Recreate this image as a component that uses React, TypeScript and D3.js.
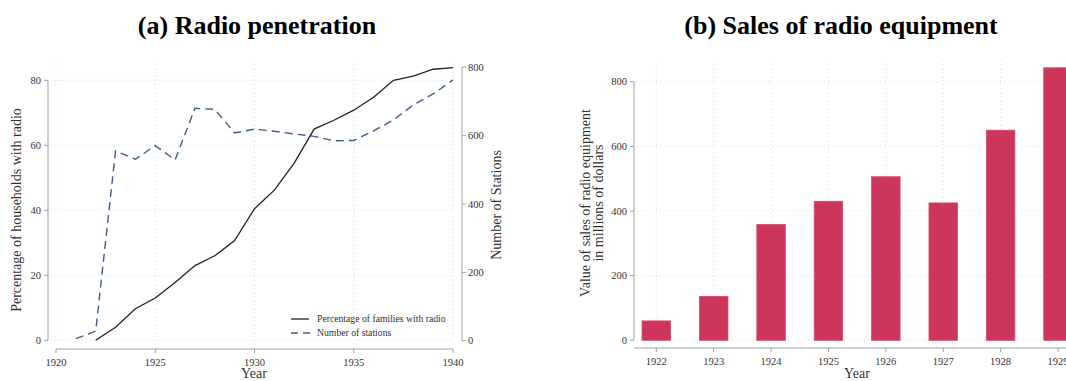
import React from 'react';
import * as d3 from 'd3';

// panel (a): radio penetration
const familyYears = [1922, 1923, 1924, 1925, 1926, 1927, 1928, 1929, 1930, 1931, 1932, 1933, 1934, 1935, 1936, 1937, 1938, 1939, 1940];
const familyPct = [0, 4, 9.7, 13, 17.8, 23, 26, 30.7, 40.5, 46.2, 54.5, 65, 67.7, 70.8, 74.8, 80, 81.3, 83.4, 83.9];
const stationYears = [1921, 1922, 1923, 1924, 1925, 1926, 1927, 1928, 1929, 1930, 1931, 1932, 1933, 1934, 1935, 1936, 1937, 1938, 1939, 1940];
const stations = [6, 28, 555, 531, 571, 529, 680, 677, 608, 619, 613, 605, 598, 585, 586, 614, 646, 690, 722, 763];
const xTicksA = [1920, 1925, 1930, 1935, 1940];
const pctTicks = [0, 20, 40, 60, 80];
const stationTicks = [0, 200, 400, 600, 800];

// panel (b): sales of radio equipment
const salesYears = ['1922', '1923', '1924', '1925', '1926', '1927', '1928', '1929'];
const sales = [60, 136, 358, 430, 506, 425, 650, 843];
const salesTicks = [0, 200, 400, 600, 800];

const FONT = '"Liberation Serif", "Times New Roman", serif';
const GRID = '#dcdcdc';
const AXIS = '#a0a0a0';
const TXT = '#333';
const BLUE = '#3b5f88';

const App = () => {
  // left panel scales
  const xA = d3.scaleLinear().domain([1920, 1940]).range([56, 453]);
  const yL = d3.scaleLinear().domain([0, 80]).range([340.3, 80.3]);
  const yR = d3.scaleLinear().domain([0, 800]).range([340.7, 67.3]);

  const famLine = d3.line<number>()
    .x((d, i) => xA(familyYears[i]))
    .y(d => yL(d));
  const stLine = d3.line<number>()
    .x((d, i) => xA(stationYears[i]))
    .y(d => yR(d));

  // right panel scales
  const xB = d3.scalePoint<string>().domain(salesYears).range([656.3, 1058]);
  const yB = d3.scaleLinear().domain([0, 800]).range([340.3, 81.7]);
  const barW = 28.5;

  return (
    <svg width={1066} height={381} style={{ position: 'absolute', left: 0, top: 0 }} fontFamily={FONT}>
      <rect width={1066} height={381} fill="#fff" />

      {/* titles */}
      <text x={257} y={34} textAnchor="middle" fontSize={26} fontWeight="bold" fill="#000">(a) Radio penetration</text>
      <text x={841} y={34} textAnchor="middle" fontSize={26} fontWeight="bold" fill="#000">(b) Sales of radio equipment</text>

      {/* ---- panel a ---- */}
      <g>
        {xTicksA.map(t => (
          <line key={'vg' + t} x1={xA(t)} x2={xA(t)} y1={60} y2={340} stroke={GRID} strokeDasharray="1,3" />
        ))}
        {pctTicks.map(t => (
          <line key={'hg' + t} x1={50} x2={453} y1={yL(t)} y2={yL(t)} stroke={GRID} strokeDasharray="1,3" />
        ))}

        {/* left axis */}
        <line x1={48} x2={48} y1={yL(80)} y2={yL(0)} stroke={AXIS} />
        {pctTicks.map(t => (
          <g key={'lt' + t}>
            <line x1={44} x2={48} y1={yL(t)} y2={yL(t)} stroke={AXIS} />
            <text x={41} y={yL(t)} dy="0.35em" textAnchor="end" fontSize={10.5} fill={TXT}>{t}</text>
          </g>
        ))}
        <text transform="translate(21,210) rotate(-90)" textAnchor="middle" fontSize={14} fill={TXT}>Percentage of households with radio</text>

        {/* right axis */}
        <line x1={462} x2={462} y1={yR(800)} y2={yR(0)} stroke={AXIS} />
        {stationTicks.map(t => (
          <g key={'rt' + t}>
            <line x1={462} x2={466} y1={yR(t)} y2={yR(t)} stroke={AXIS} />
            <text x={468} y={yR(t)} dy="0.35em" textAnchor="start" fontSize={10.5} fill={TXT}>{t}</text>
          </g>
        ))}
        <text transform="translate(501,205) rotate(-90)" textAnchor="middle" fontSize={14} fill={TXT}>Number of Stations</text>

        {/* x axis */}
        <line x1={xA(1920)} x2={xA(1940)} y1={349} y2={349} stroke={AXIS} />
        {xTicksA.map(t => (
          <g key={'xt' + t}>
            <line x1={xA(t)} x2={xA(t)} y1={349} y2={353} stroke={AXIS} />
            <text x={xA(t)} y={366} textAnchor="middle" fontSize={10.5} fill={TXT}>{t}</text>
          </g>
        ))}
        <text x={254} y={378} textAnchor="middle" fontSize={14} fill={TXT}>Year</text>

        {/* series */}
        <path d={stLine(stations) || ''} fill="none" stroke={BLUE} strokeWidth={1.4} strokeDasharray="8,5" />
        <path d={famLine(familyPct) || ''} fill="none" stroke="#222" strokeWidth={1.3} />

        {/* legend */}
        <line x1={291} x2={309} y1={319} y2={319} stroke="#222" strokeWidth={1.3} />
        <text x={317} y={319} dy="0.35em" fontSize={9.7} fill={TXT}>Percentage of families with radio</text>
        <line x1={291} x2={310} y1={333} y2={333} stroke={BLUE} strokeWidth={1.4} strokeDasharray="7,5" />
        <text x={317} y={333} dy="0.35em" fontSize={9.7} fill={TXT}>Number of stations</text>
      </g>

      {/* ---- panel b ---- */}
      <g>
        {salesYears.map(t => (
          <line key={'bvg' + t} x1={xB(t)} x2={xB(t)} y1={60} y2={340} stroke={GRID} strokeDasharray="1,3" />
        ))}
        {salesTicks.map(t => (
          <line key={'bhg' + t} x1={636} x2={1066} y1={yB(t)} y2={yB(t)} stroke={GRID} strokeDasharray="1,3" />
        ))}

        <line x1={634} x2={634} y1={yB(800)} y2={yB(0)} stroke={AXIS} />
        {salesTicks.map(t => (
          <g key={'bt' + t}>
            <line x1={630} x2={634} y1={yB(t)} y2={yB(t)} stroke={AXIS} />
            <text x={627} y={yB(t)} dy="0.35em" textAnchor="end" fontSize={10.5} fill={TXT}>{t}</text>
          </g>
        ))}
        <text transform="translate(590,203) rotate(-90)" textAnchor="middle" fontSize={14} fill={TXT}>
          <tspan x={0} dy={0}>Value of sales of radio equipment</tspan>
          <tspan x={0} dy={13}>in millions of dollars</tspan>
        </text>

        <line x1={634} x2={1066} y1={348} y2={348} stroke={AXIS} />
        {salesYears.map(t => (
          <g key={'bx' + t}>
            <line x1={xB(t)} x2={xB(t)} y1={348} y2={352} stroke={AXIS} />
            <text x={xB(t)} y={365} textAnchor="middle" fontSize={10.5} fill={TXT}>{t}</text>
          </g>
        ))}
        <text x={857} y={378} textAnchor="middle" fontSize={14} fill={TXT}>Year</text>

        {sales.map((v, i) => (
          <rect key={'bar' + i}
            x={(xB(salesYears[i]) as number) - barW / 2}
            y={yB(v)}
            width={barW}
            height={yB(0) - yB(v)}
            fill="#cc365a"
            stroke="#d4486c"
            strokeWidth={0.8} />
        ))}
      </g>
    </svg>
  );
};

export default App;
